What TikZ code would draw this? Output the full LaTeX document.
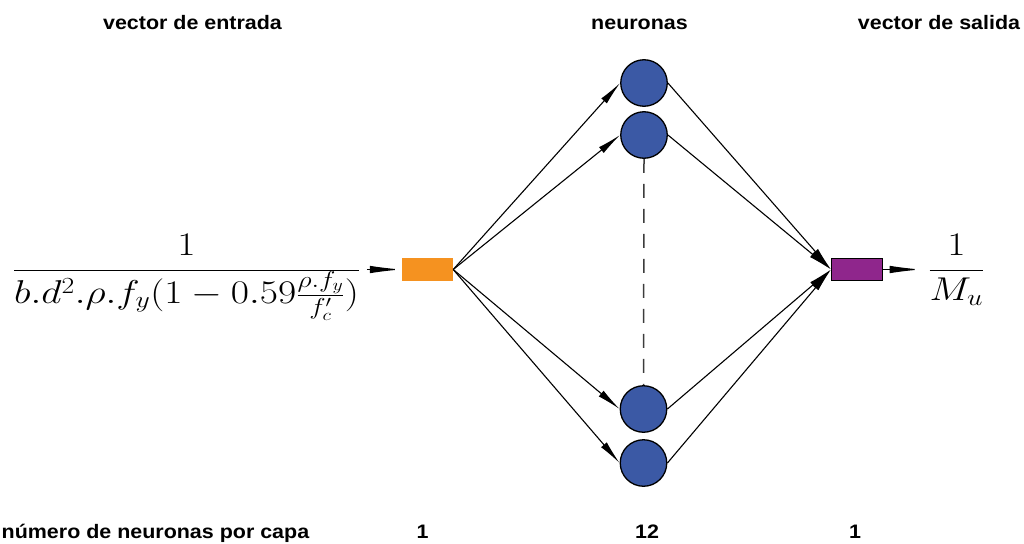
\RequirePackage{fix-cm}
\documentclass[tikz,border=0pt]{standalone}
\usepackage{graphicx}
\usepackage{fontspec}
\newfontfamily\labfont{Liberation Sans}
\usetikzlibrary{arrows.meta}
\definecolor{orangebox}{RGB}{245,146,32}
\definecolor{neuronblue}{RGB}{59,89,165}
\definecolor{purplebox}{RGB}{143,38,140}
\definecolor{dashgray}{RGB}{60,60,60}
\newcommand{\wlab}[1]{\scalebox{1.1}[1]{#1}}
\newcommand{\wmath}[1]{\scalebox{1.2}[1]{#1}}
\begin{document}
\begin{tikzpicture}[x=1pt,y=-1pt,
  lab/.style={font=\labfont\bfseries\fontsize{19.5}{24}\selectfont, inner sep=0pt},
  mathlab/.style={font=\fontsize{33}{40}\selectfont, inner sep=6.5pt},
  neuron/.style={circle, draw=black, line width=1.3pt, fill=neuronblue, minimum size=46.5pt, inner sep=0pt},
  inbox/.style={rectangle, fill=orangebox, minimum width=51pt, minimum height=23pt, inner sep=0pt},
  outbox/.style={rectangle, draw=black, line width=1.3pt, fill=purplebox, minimum width=50.7pt, minimum height=21.7pt, inner sep=0pt},
  conn/.style={line width=1.1pt, -{Latex[length=24pt,width=7.5pt]}},
  ioarrow/.style={line width=1.1pt, -{Latex[length=32pt,width=7.5pt]}},
  dashline/.style={draw=dashgray, line width=1.5pt, dash pattern=on 14pt off 11pt}
]
\useasboundingbox (0,0) rectangle (1024,543);

% titles
\node[lab, anchor=base] (t1) at (192.5,29.5) {\wlab{vector de entrada}};
\node[lab, anchor=base] (t2) at (639.5,29.5) {\wlab{neuronas}};
\node[lab, anchor=base] (t3) at (939,29.5) {\wlab{vector de salida}};

% bottom row
\node[lab, anchor=base west] (b0) at (1.5,538) {\wlab{número de neuronas por capa}};
\node[lab, anchor=base] (b1) at (422.5,538) {\wlab{1}};
\node[lab, anchor=base] (b2) at (647,538) {\wlab{12}};
\node[lab, anchor=base] (b3) at (855,538) {\wlab{1}};

% boxes
\node[inbox] (inp) at (427.5,269.5) {};
\node[outbox] (pur) at (857,269.5) {};

% neurons
\node[neuron] (c1) at (644,83) {};
\node[neuron] (c2) at (644,135) {};
\node[neuron] (c3) at (643.5,409) {};
\node[neuron] (c4) at (643.5,463) {};

% input / output formulas
\node[mathlab, anchor=base] (xin) at (186.5,278.3) {\wmath{$\displaystyle\frac{1}{b.d^2.\rho.f_y(1-0.59\frac{\rho.f_y}{f'_c})}$}};
\node[mathlab, anchor=base] (yout) at (956.5,278.3) {\wmath{$\displaystyle\frac{1}{M_u}$}};

% connectors
\draw[ioarrow] (xin.east |- inp) -- (inp.west);
\draw[ioarrow] (pur.east) -- (yout.west |- pur);

\foreach \c in {c1,c2,c3,c4}{
  \draw[conn] (inp.east) -- (\c.west);
  \draw[conn] (\c.east) -- (pur.west);
}

\draw[dashline] (c2.south) -- (c3.north);
\end{tikzpicture}
\end{document}
